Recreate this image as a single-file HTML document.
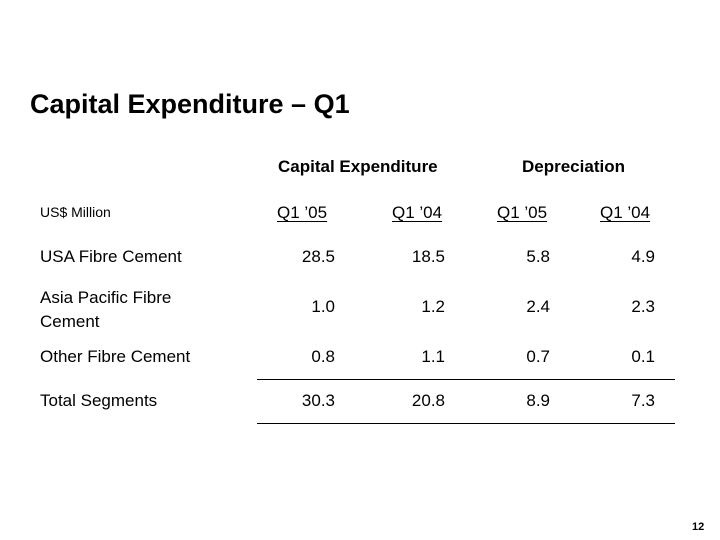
<!DOCTYPE html>
<html><head><meta charset="utf-8"><style>
body{margin:0;background:#fff;}
#s{position:relative;width:720px;height:540px;overflow:hidden;font-family:"Liberation Sans",Arial,sans-serif;color:#000;}
#s div{position:absolute;white-space:nowrap;line-height:1;}
.t{font-size:17px;}
.r{text-align:right;width:80px;}
.h{font-size:17px;text-decoration:underline;text-underline-offset:3px;}
.ln{height:1px;background:#000;left:257px;width:418px;}
</style></head><body>
<div id="s">
<div style="left:30px;top:91px;font-size:27px;font-weight:bold;">Capital Expenditure – Q1</div>
<div class="t" style="left:278px;top:158px;font-weight:bold;">Capital Expenditure</div>
<div class="t" style="left:522px;top:158px;font-weight:bold;">Depreciation</div>
<div style="left:40px;top:205px;font-size:14px;">US$ Million</div>
<div class="h" style="left:277px;top:204px;">Q1 ’05</div>
<div class="h" style="left:392px;top:204px;">Q1 ’04</div>
<div class="h" style="left:497px;top:204px;">Q1 ’05</div>
<div class="h" style="left:600px;top:204px;">Q1 ’04</div>

<div class="t" style="left:40px;top:248px;">USA Fibre Cement</div>
<div class="t" style="left:40px;top:286px;line-height:24px;">Asia Pacific Fibre<br>Cement</div>
<div class="t" style="left:40px;top:348px;">Other Fibre Cement</div>
<div class="t" style="left:40px;top:392px;">Total Segments</div>

<div class="t r" style="left:255px;top:248px;">28.5</div>
<div class="t r" style="left:365px;top:248px;">18.5</div>
<div class="t r" style="left:470px;top:248px;">5.8</div>
<div class="t r" style="left:575px;top:248px;">4.9</div>

<div class="t r" style="left:255px;top:298px;">1.0</div>
<div class="t r" style="left:365px;top:298px;">1.2</div>
<div class="t r" style="left:470px;top:298px;">2.4</div>
<div class="t r" style="left:575px;top:298px;">2.3</div>

<div class="t r" style="left:255px;top:348px;">0.8</div>
<div class="t r" style="left:365px;top:348px;">1.1</div>
<div class="t r" style="left:470px;top:348px;">0.7</div>
<div class="t r" style="left:575px;top:348px;">0.1</div>

<div class="ln" style="top:379px;"></div>
<div class="t r" style="left:255px;top:392px;">30.3</div>
<div class="t r" style="left:365px;top:392px;">20.8</div>
<div class="t r" style="left:470px;top:392px;">8.9</div>
<div class="t r" style="left:575px;top:392px;">7.3</div>
<div class="ln" style="top:423px;"></div>

<div style="left:692px;top:522px;font-size:11px;font-weight:bold;">12</div>
</div>
</body></html>
